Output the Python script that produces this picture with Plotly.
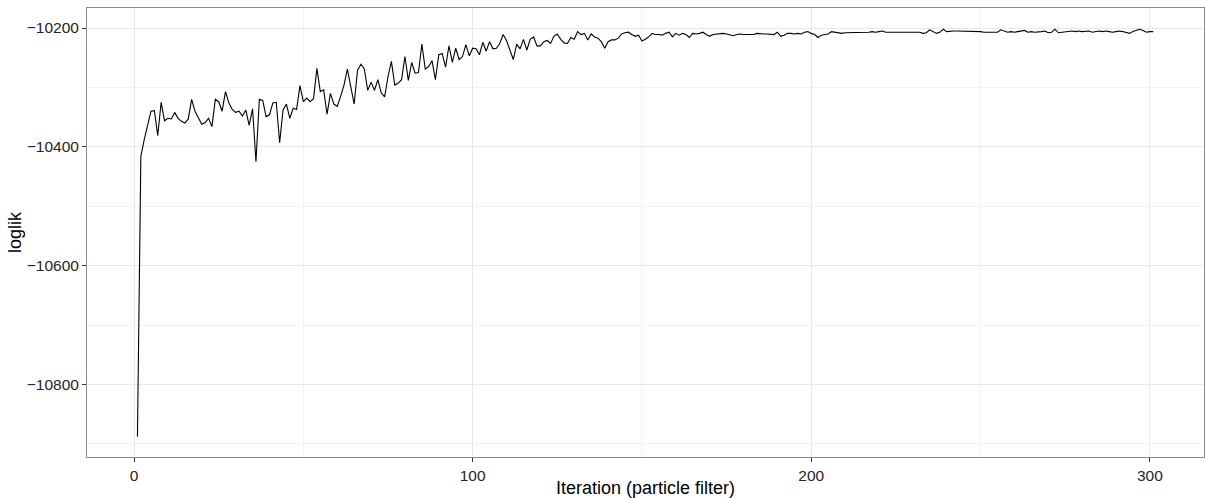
import plotly.graph_objects as go

iteration = list(range(1, 302))

loglik = [
    -10888, -10416, -10388, -10366, -10340, -10339, -10381, -10325, -10356, -10352,
    -10353, -10342, -10352, -10357, -10360, -10353, -10320, -10340, -10352, -10362,
    -10359, -10352, -10366, -10320, -10324, -10340, -10307, -10326, -10337, -10342,
    -10340, -10348, -10338, -10364, -10336, -10425, -10320, -10322, -10349, -10346,
    -10326, -10325, -10393, -10338, -10328, -10352, -10335, -10337, -10297, -10324,
    -10318, -10324, -10319, -10268, -10307, -10304, -10345, -10310, -10328, -10332,
    -10315, -10296, -10269, -10301, -10328, -10271, -10261, -10269, -10305, -10291,
    -10305, -10287, -10309, -10316, -10282, -10256, -10296, -10293, -10287, -10248,
    -10288, -10258, -10276, -10275, -10227, -10269, -10265, -10255, -10287, -10245,
    -10243, -10266, -10230, -10258, -10234, -10253, -10248, -10228, -10247, -10234,
    -10235, -10245, -10224, -10239, -10223, -10235, -10234, -10226, -10211, -10221,
    -10239, -10253, -10227, -10235, -10219, -10237, -10219, -10215, -10230, -10230,
    -10223, -10221, -10226, -10214, -10210, -10219, -10225, -10226, -10216, -10219,
    -10206, -10211, -10209, -10220, -10210, -10215, -10217, -10223, -10234, -10223,
    -10220, -10220, -10217, -10210, -10208, -10207, -10211, -10214, -10212, -10222,
    -10219, -10215, -10209, -10211, -10211, -10212, -10209, -10207, -10215, -10209,
    -10212, -10209, -10211, -10216, -10209, -10210, -10209, -10207, -10211, -10214,
    -10211, -10210, -10210, -10209, -10210, -10211, -10213, -10211, -10210, -10211,
    -10211, -10210, -10211, -10209, -10210, -10210, -10210, -10210, -10211, -10207,
    -10214, -10212, -10209, -10209, -10210, -10209, -10210, -10207, -10206, -10209,
    -10211, -10216, -10212, -10211, -10210, -10206, -10207, -10207, -10209, -10208,
    -10208, -10208, -10207, -10207, -10207, -10207, -10207, -10206, -10207, -10206,
    -10205, -10207, -10207, -10207, -10207, -10207, -10207, -10207, -10207, -10206,
    -10206, -10207, -10209, -10208, -10203, -10206, -10209, -10207, -10202, -10206,
    -10205, -10205, -10205, -10205, -10206, -10205, -10206, -10205, -10205, -10206,
    -10207, -10207, -10207, -10207, -10207, -10203, -10205, -10207, -10206, -10207,
    -10206, -10205, -10204, -10207, -10206, -10207, -10207, -10206, -10205, -10208,
    -10207, -10202, -10208, -10207, -10206, -10206, -10205, -10206, -10205, -10206,
    -10206, -10205, -10207, -10206, -10205, -10206, -10205, -10206, -10207, -10206,
    -10205, -10206, -10207, -10209, -10206, -10204, -10202, -10204, -10207, -10206,
    -10206,
]

x_ticks = [0, 100, 200, 300]
y_ticks = [-10800, -10600, -10400, -10200]
y_tick_labels = ["\u221210800", "\u221210600", "\u221210400", "\u221210200"]

FONT = "Liberation Sans, Arial, sans-serif"

fig = go.Figure()
fig.add_trace(go.Scatter(
    x=iteration, y=loglik, mode="lines",
    line=dict(color="black", width=1.1),
    showlegend=False, hoverinfo="skip",
))

axis_common = dict(
    showline=True, linecolor="#8a8a8a", linewidth=1, mirror=True,
    ticks="outside", ticklen=4, tickcolor="#333333", tickwidth=1,
    showgrid=True, gridcolor="#e8e8e8", gridwidth=1.2,
    zeroline=False, automargin=False,
    tickfont=dict(family=FONT, size=15.5, color="#262626"),
)

fig.update_xaxes(
    **axis_common,
    range=[-13.9, 316],
    tickvals=x_ticks,
    minor=dict(tickvals=[50, 150, 250], showgrid=True, gridcolor="#f3f3f3", gridwidth=1, ticks=""),
    title=dict(text="Iteration (particle filter)", standoff=2,
               font=dict(family=FONT, size=18, color="black")),
)
fig.update_yaxes(
    **axis_common,
    range=[-10922, -10166.3],
    tickvals=y_ticks,
    ticktext=y_tick_labels,
    minor=dict(tickvals=[-10900, -10700, -10500, -10300], showgrid=True, gridcolor="#f3f3f3", gridwidth=1, ticks=""),
    title=dict(text="loglik", standoff=0,
               font=dict(family=FONT, size=18, color="black")),
)

fig.update_layout(
    width=1205, height=498,
    margin=dict(l=87, r=1, t=8, b=41),
    paper_bgcolor="white", plot_bgcolor="white",
)

fig.write_html(
    "out.html",
    config={"displayModeBar": False},
    post_script="document.body.style.margin='0';document.body.style.padding='0';",
)
